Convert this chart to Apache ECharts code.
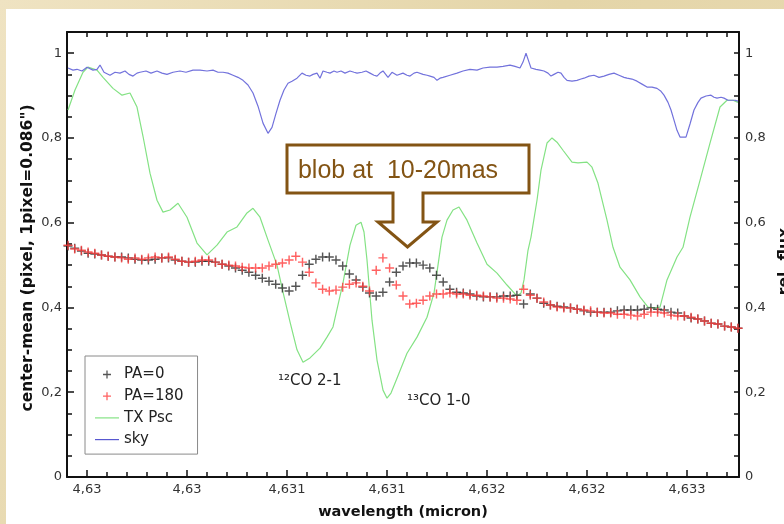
<!DOCTYPE html>
<html>
<head>
<meta charset="utf-8">
<script src="https://cdn.jsdelivr.net/npm/echarts@6/dist/echarts.min.js"></script>
<style>
  html, body { margin: 0; padding: 0; background: #e6d8ae; }
  #chart { width: 784px; height: 524px; }
</style>
</head>
<body>
<div id="chart"></div>
<script>
// Spectral sampling of the two position-angle traces (micron)
const paStartWl = 4.629705;
const paStepWl = 0.0000335;

// center-mean offset (pixel), position angle 0
const pa0 = [
  0.545,0.540,0.533,0.528,0.526,0.524,0.521,0.519,0.519,0.517,
  0.514,0.512,0.512,0.514,0.517,0.517,0.512,0.509,0.507,0.507,
  0.509,0.509,0.507,0.502,0.498,0.493,0.488,0.483,0.476,0.469,
  0.462,0.455,0.446,0.439,0.450,0.476,0.502,0.514,0.519,0.519,
  0.512,0.498,0.479,0.465,0.448,0.434,0.427,0.436,0.460,0.483,
  0.498,0.505,0.505,0.500,0.493,0.476,0.460,0.443,0.436,0.434,
  0.432,0.427,0.425,0.425,0.425,0.427,0.427,0.429,0.408,0.432,
  0.422,0.410,0.406,0.403,0.401,0.399,0.396,0.392,0.389,0.389,
  0.389,0.389,0.392,0.394,0.394,0.394,0.396,0.399,0.396,0.394,
  0.389,0.387,0.380,0.375,0.373,0.368,0.363,0.361,0.356,0.354,
  0.351
];

// center-mean offset (pixel), position angle 180
const pa180 = [
  0.547,0.538,0.535,0.531,0.528,0.524,0.521,0.519,0.517,0.514,
  0.517,0.514,0.517,0.519,0.517,0.519,0.514,0.509,0.507,0.509,
  0.512,0.512,0.507,0.502,0.500,0.498,0.495,0.493,0.493,0.493,
  0.498,0.502,0.505,0.512,0.521,0.507,0.483,0.458,0.443,0.439,
  0.441,0.448,0.455,0.458,0.450,0.439,0.488,0.517,0.493,0.453,
  0.427,0.408,0.410,0.417,0.427,0.432,0.432,0.434,0.432,0.432,
  0.429,0.429,0.427,0.425,0.422,0.422,0.420,0.417,0.443,0.429,
  0.422,0.413,0.406,0.401,0.399,0.399,0.396,0.394,0.392,0.389,
  0.387,0.387,0.384,0.384,0.382,0.380,0.384,0.389,0.389,0.387,
  0.382,0.380,0.380,0.377,0.373,0.368,0.363,0.361,0.356,0.354,
  0.351
];

// TX Psc spectrum (relative flux)
const txPscWl = [
  4.629705,4.629740,4.629780,4.629805,4.629850,4.629880,4.629930,4.629975,4.630015,4.630050,
  4.630080,4.630115,4.630150,4.630180,4.630215,4.630255,4.630300,4.630350,4.630400,4.630450,
  4.630500,4.630550,4.630600,4.630630,4.630665,4.630705,4.630750,4.630780,4.630815,4.630850,
  4.630880,4.630915,4.630965,4.631000,4.631030,4.631080,4.631115,4.631145,4.631170,4.631185,
  4.631200,4.631225,4.631250,4.631280,4.631300,4.631320,4.631350,4.631400,4.631450,4.631500,
  4.631535,4.631575,4.631600,4.631630,4.631660,4.631700,4.631750,4.631800,4.631850,4.631900,
  4.631950,4.631970,4.631985,4.632005,4.632020,4.632050,4.632070,4.632100,4.632125,4.632150,
  4.632180,4.632225,4.632255,4.632300,4.632325,4.632355,4.632400,4.632430,4.632465,4.632515,
  4.632565,4.632605,4.632640,4.632665,4.632700,4.632750,4.632780,4.632815,4.632865,4.632915,
  4.632965,4.633000,4.633030,4.633055
];
const txPscFlux = [
  0.866,0.913,0.955,0.967,0.960,0.943,0.917,0.901,0.906,0.873,
  0.804,0.717,0.653,0.625,0.630,0.646,0.613,0.552,0.524,0.547,
  0.578,0.590,0.623,0.634,0.613,0.559,0.500,0.436,0.366,0.300,
  0.271,0.281,0.304,0.330,0.354,0.458,0.547,0.594,0.601,0.578,
  0.512,0.370,0.276,0.205,0.186,0.198,0.233,0.292,0.330,0.377,
  0.434,0.566,0.606,0.630,0.637,0.606,0.552,0.502,0.481,0.453,
  0.427,0.434,0.465,0.535,0.566,0.653,0.724,0.788,0.800,0.790,
  0.771,0.743,0.741,0.743,0.731,0.693,0.606,0.542,0.495,0.465,
  0.425,0.401,0.399,0.401,0.465,0.519,0.542,0.613,0.700,0.788,
  0.873,0.889,0.889,0.884
];

// sky transmission (relative flux)
const skyWl = [
  4.629705,4.629730,4.629750,4.629775,4.629800,4.629830,4.629850,4.629865,4.629885,4.629915,
  4.629940,4.629965,4.629990,4.630010,4.630030,4.630050,4.630065,4.630095,4.630120,4.630150,
  4.630175,4.630200,4.630230,4.630265,4.630295,4.630330,4.630365,4.630400,4.630430,4.630455,
  4.630480,4.630505,4.630530,4.630555,4.630580,4.630605,4.630630,4.630655,4.630680,4.630705,
  4.630725,4.630745,4.630765,4.630785,4.630805,4.630825,4.630850,4.630875,4.630895,4.630915,
  4.630930,4.630950,4.630965,4.630980,4.631000,4.631015,4.631035,4.631050,4.631070,4.631090,
  4.631115,4.631135,4.631150,4.631175,4.631195,4.631215,4.631235,4.631250,4.631265,4.631280,
  4.631305,4.631325,4.631350,4.631380,4.631400,4.631415,4.631435,4.631450,4.631480,4.631500,
  4.631515,4.631535,4.631550,4.631565,4.631580,4.631615,4.631650,4.631680,4.631715,4.631750,
  4.631780,4.631815,4.631850,4.631880,4.631915,4.631940,4.631965,4.631980,4.631995,4.632010,
  4.632020,4.632045,4.632065,4.632085,4.632105,4.632120,4.632135,4.632155,4.632170,4.632185,
  4.632200,4.632225,4.632250,4.632270,4.632285,4.632310,4.632335,4.632360,4.632385,4.632410,
  4.632435,4.632460,4.632485,4.632500,4.632525,4.632550,4.632575,4.632600,4.632625,4.632650,
  4.632670,4.632685,4.632705,4.632720,4.632735,4.632750,4.632765,4.632775,4.632795,4.632815,
  4.632835,4.632855,4.632870,4.632895,4.632920,4.632935,4.632950,4.632970,4.632985,4.633005,
  4.633020,4.633040,4.633055
];
const skyFlux = [
  0.965,0.960,0.962,0.958,0.967,0.960,0.962,0.972,0.955,0.948,
  0.955,0.953,0.958,0.950,0.946,0.953,0.955,0.958,0.953,0.958,
  0.953,0.950,0.955,0.958,0.955,0.960,0.960,0.958,0.960,0.955,
  0.955,0.953,0.948,0.943,0.936,0.925,0.906,0.875,0.835,0.811,
  0.825,0.858,0.889,0.913,0.929,0.934,0.941,0.953,0.948,0.946,
  0.950,0.953,0.941,0.958,0.955,0.953,0.958,0.955,0.958,0.953,
  0.958,0.955,0.953,0.955,0.958,0.953,0.948,0.946,0.953,0.958,
  0.943,0.955,0.948,0.953,0.948,0.946,0.953,0.955,0.950,0.948,
  0.946,0.943,0.936,0.941,0.943,0.948,0.953,0.958,0.962,0.960,
  0.965,0.967,0.967,0.969,0.972,0.969,0.965,0.979,1.000,0.979,
  0.965,0.962,0.960,0.958,0.953,0.946,0.950,0.955,0.953,0.943,
  0.936,0.934,0.936,0.939,0.941,0.946,0.948,0.943,0.946,0.950,
  0.953,0.948,0.943,0.941,0.939,0.934,0.927,0.920,0.920,0.917,
  0.910,0.901,0.884,0.866,0.842,0.818,0.802,0.800,0.802,0.833,
  0.866,0.884,0.894,0.899,0.901,0.896,0.894,0.896,0.894,0.889,
  0.889,0.889,0.887
];

// axis ticks and labels
const xMin = 4.6297;
const xMax = 4.63306;
const xTickValues = [4.6298, 4.6303, 4.6308, 4.6313, 4.6318, 4.6323, 4.6328];
const xTickLabels = ['4,63', '4,63', '4,631', '4,631', '4,632', '4,632', '4,633'];
const yTickValues = [0, 0.2, 0.4, 0.6, 0.8, 1];
const yTickLabels = ['0', '0,2', '0,4', '0,6', '0,8', '1'];
const yMax = 1.05;

// minor tick positions: every 0.0001 micron and every 0.05 in y
const xMinorTicks = [];
for (let k = 0; k <= 33; k++) xMinorTicks.push(+(4.6297 + k * 0.0001).toFixed(4));
const yMinorTicks = [];
for (let k = 0; k <= 21; k++) yMinorTicks.push(+(k * 0.05).toFixed(2));

function labelFor(values, labels) {
  return function (v) {
    const k = values.findIndex(t => Math.abs(t - v) < 1e-7);
    return k >= 0 ? labels[k] : '';
  };
}

const plusSymbol = 'path://M0.42,0H0.58V0.42H1V0.58H0.58V1H0.42V0.58H0V0.42H0.42Z';
const lineIcon = 'path://M0,0H24V1.2H0Z';
const axisColor = '#111';
const labelFont = { color: '#333', fontSize: 13, fontFamily: 'DejaVu Sans' };
const nameFont = { color: '#111', fontWeight: 'bold', fontFamily: 'DejaVu Sans' };

const chart = echarts.init(document.getElementById('chart'), null, { renderer: 'canvas' });

const option = {
  animation: false,
  backgroundColor: {
    type: 'linear', x: 0, y: 0, x2: 1, y2: 1,
    colorStops: [
      { offset: 0, color: '#efe3c2' },
      { offset: 0.5, color: '#e4d5a8' },
      { offset: 1, color: '#eadcb6' }
    ]
  },
  graphic: [
    { type: 'rect', z: -10, silent: true,
      shape: { x: 6, y: 9, width: 778, height: 515 },
      style: { fill: '#ffffff' } },
    { type: 'polygon', z: 100, silent: true,
      shape: { points: [[287,145],[529,145],[529,193],[423,193],[423,222],[437,222],[407.5,247],[378,222],[393,222],[393,193],[287,193]] },
      style: { fill: '#ffffff', stroke: '#835414', lineWidth: 3, lineJoin: 'miter' } },
    { type: 'text', z: 101, silent: true, x: 398, y: 171,
      style: { text: 'blob at  10-20mas', fill: '#835414', font: '25px "Liberation Sans"',
               align: 'center', verticalAlign: 'middle' } },
    { type: 'text', z: 101, silent: true, x: 278, y: 381,
      style: { text: '¹²CO 2-1', fill: '#222', font: '15px "DejaVu Sans"', verticalAlign: 'middle' } },
    { type: 'text', z: 101, silent: true, x: 407, y: 401,
      style: { text: '¹³CO 1-0', fill: '#222', font: '15px "DejaVu Sans"', verticalAlign: 'middle' } }
  ],
  grid: { left: 67, right: 45, top: 32, bottom: 47, containLabel: false, outerBoundsMode: 'none' },
  legend: {
    data: [
      { name: 'PA=0' },
      { name: 'PA=180' },
      { name: 'TX Psc', icon: lineIcon },
      { name: 'sky', icon: lineIcon }
    ],
    orient: 'vertical',
    left: 85, top: 356,
    padding: [10, 14, 6, 10],
    itemGap: 4.7,
    itemWidth: 24, itemHeight: 8,
    backgroundColor: '#ffffff',
    borderColor: '#8a8a8a', borderWidth: 1,
    textStyle: { color: '#222', fontSize: 15, fontFamily: 'DejaVu Sans', lineHeight: 17 },
    z: 50
  },
  xAxis: [
    {
      type: 'value', position: 'bottom', min: xMin, max: xMax,
      name: 'wavelength (micron)', nameLocation: 'middle', nameGap: 28, nameMoveOverlap: false,
      nameTextStyle: Object.assign({}, nameFont, { fontSize: 14.5 }),
      axisLine: { show: true, onZero: false, lineStyle: { color: axisColor, width: 2 } },
      axisTick: { show: true, inside: true, length: 7, customValues: xTickValues, lineStyle: { color: axisColor, width: 1.5 } },
      axisLabel: Object.assign({ customValues: xTickValues, margin: 6, formatter: labelFor(xTickValues, xTickLabels) }, labelFont),
      splitLine: { show: false }
    },
    {
      type: 'value', position: 'bottom', min: xMin, max: xMax,
      axisLine: { show: false },
      axisTick: { show: true, inside: true, length: 5, customValues: xMinorTicks, lineStyle: { color: axisColor, width: 1.5 } },
      axisLabel: { show: false },
      splitLine: { show: false }
    },
    {
      type: 'value', position: 'top', min: xMin, max: xMax,
      axisLine: { show: true, onZero: false, lineStyle: { color: axisColor, width: 2 } },
      axisTick: { show: true, inside: true, length: 5, customValues: xMinorTicks, lineStyle: { color: axisColor, width: 1.5 } },
      axisLabel: { show: false },
      splitLine: { show: false }
    }
  ],
  yAxis: [
    {
      type: 'value', position: 'left', min: 0, max: yMax,
      name: 'center-mean (pixel, 1pixel=0.086")', nameLocation: 'middle', nameGap: 31, nameRotate: 90,
      nameMoveOverlap: false,
      nameTextStyle: Object.assign({}, nameFont, { fontSize: 15.5, padding: [0, 7, 0, 0] }),
      axisLine: { show: true, onZero: false, lineStyle: { color: axisColor, width: 2 } },
      axisTick: { show: true, inside: true, length: 7, customValues: yTickValues, lineStyle: { color: axisColor, width: 1.5 } },
      axisLabel: Object.assign({ customValues: yTickValues, margin: 5, formatter: labelFor(yTickValues, yTickLabels) }, labelFont),
      splitLine: { show: false }
    },
    {
      type: 'value', position: 'left', min: 0, max: yMax,
      axisLine: { show: false },
      axisTick: { show: true, inside: true, length: 5, customValues: yMinorTicks, lineStyle: { color: axisColor, width: 1.5 } },
      axisLabel: { show: false },
      splitLine: { show: false }
    },
    {
      type: 'value', position: 'right', min: 0, max: yMax,
      name: 'rel. flux', nameLocation: 'middle', nameGap: 38, nameRotate: 90,
      nameMoveOverlap: false,
      nameTextStyle: Object.assign({}, nameFont, { fontSize: 15.5, padding: [0, 14, 0, 0] }),
      axisLine: { show: true, onZero: false, lineStyle: { color: axisColor, width: 2 } },
      axisTick: { show: true, inside: true, length: 5, customValues: yMinorTicks, lineStyle: { color: axisColor, width: 1.5 } },
      axisLabel: Object.assign({ customValues: yTickValues, margin: 6, formatter: labelFor(yTickValues, yTickLabels) }, labelFont),
      splitLine: { show: false }
    }
  ],
  series: [
    {
      name: 'TX Psc', type: 'line', xAxisIndex: 0, yAxisIndex: 2, z: 2,
      symbol: 'none', clip: true,
      lineStyle: { color: '#84e284', width: 1.2 }, itemStyle: { color: '#84e284' },
      data: txPscWl.map((w, i) => [w, txPscFlux[i]])
    },
    {
      name: 'sky', type: 'line', xAxisIndex: 0, yAxisIndex: 2, z: 2,
      symbol: 'none', clip: true,
      lineStyle: { color: '#7272dc', width: 1.2 }, itemStyle: { color: '#5858d0' },
      data: skyWl.map((w, i) => [w, skyFlux[i]])
    },
    {
      name: 'PA=0', type: 'scatter', xAxisIndex: 0, yAxisIndex: 0, z: 3,
      symbol: plusSymbol, symbolSize: 9,
      itemStyle: { color: '#2b2b2b' },
      data: pa0.map((v, i) => [paStartWl + i * paStepWl, v])
    },
    {
      name: 'PA=180', type: 'scatter', xAxisIndex: 0, yAxisIndex: 0, z: 4,
      symbol: plusSymbol, symbolSize: 9,
      itemStyle: { color: '#ff3a3a' },
      data: pa180.map((v, i) => [paStartWl + i * paStepWl, v])
    }
  ]
};

chart.setOption(option);
</script>
</body>
</html>
